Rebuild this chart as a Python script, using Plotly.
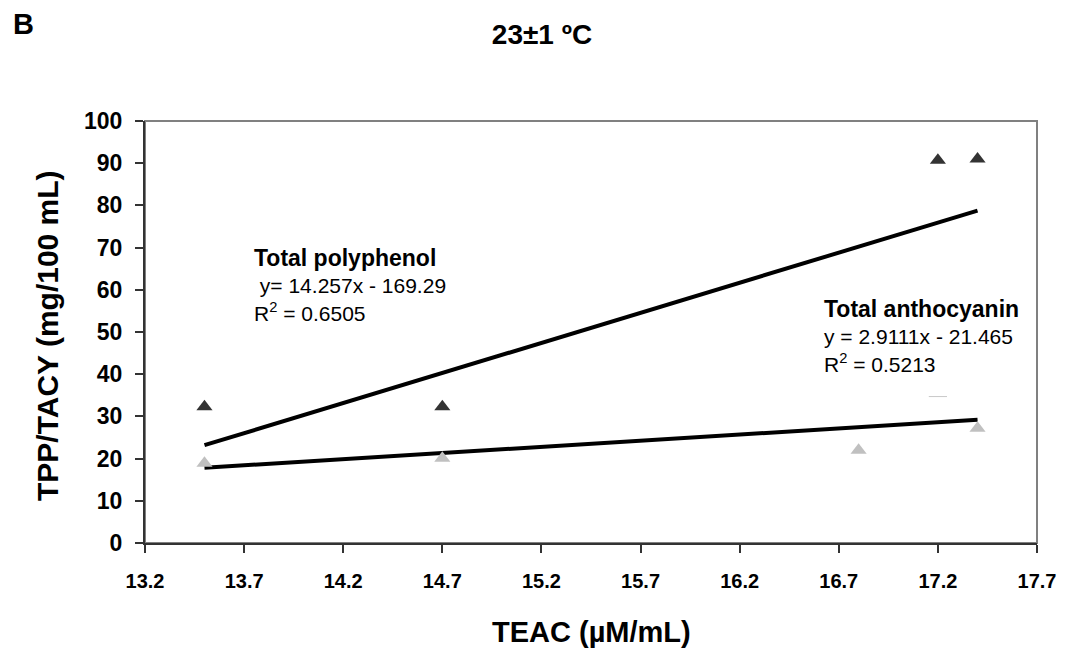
import plotly.graph_objects as go

# ---- data ----
tpp_x = [13.5, 14.7, 17.2, 17.4]
tpp_y = [32.3, 32.3, 90.7, 91.0]
tacy_x = [13.5, 14.7, 16.8, 17.4]
tacy_y = [18.9, 20.1, 22.0, 27.2]
tacy_extra_x = [17.2]
tacy_extra_y = [34.7]

trend_x = [13.5, 17.4]
tpp_slope, tpp_intercept = 14.257, -169.29
tacy_slope, tacy_intercept = 2.9111, -21.465

x_ticks = [13.2, 13.7, 14.2, 14.7, 15.2, 15.7, 16.2, 16.7, 17.2, 17.7]
x_tick_labels = ["13.2", "13.7", "14.2", "14.7", "15.2", "15.7", "16.2", "16.7", "17.2", "17.7"]
y_ticks = [0, 10, 20, 30, 40, 50, 60, 70, 80, 90, 100]

FONT = "Liberation Sans, Arial, sans-serif"

tpp_trend = [tpp_slope * x + tpp_intercept for x in trend_x]
tacy_trend = [tacy_slope * x + tacy_intercept for x in trend_x]

fig = go.Figure()
fig.add_trace(go.Scatter(x=trend_x, y=tpp_trend, mode="lines",
                         line=dict(color="black", width=4), showlegend=False))
fig.add_trace(go.Scatter(x=trend_x, y=tacy_trend, mode="lines",
                         line=dict(color="black", width=4), showlegend=False))
fig.add_trace(go.Scatter(x=tpp_x, y=tpp_y, mode="markers",
                         marker=dict(symbol="triangle-up", size=14, color="#333333"),
                         showlegend=False))
fig.add_trace(go.Scatter(x=tacy_x, y=tacy_y, mode="markers",
                         marker=dict(symbol="triangle-up", size=14, color="#c0c0c0"),
                         showlegend=False))
fig.add_trace(go.Scatter(x=tacy_extra_x, y=tacy_extra_y, mode="markers",
                         marker=dict(symbol="line-ew", size=13,
                                     line=dict(color="#c8c8c8", width=1)),
                         showlegend=False))

fig.update_layout(
    width=1068, height=656,
    margin=dict(l=145, r=31, t=121, b=113),
    paper_bgcolor="white", plot_bgcolor="white",
    font=dict(family=FONT, color="black"),
    title=dict(text="23±1 ºC", x=542 / 1068, xanchor="center",
               y=1 - 34 / 656, yanchor="middle",
               font=dict(size=28, family=FONT, weight="bold", color="black")),
    xaxis=dict(range=[13.2, 17.7], tickvals=x_ticks, ticktext=x_tick_labels,
               showgrid=False, zeroline=False, showline=True,
               linecolor="#333333", linewidth=2,
               ticks="outside", ticklen=8, tickcolor="#333333", tickwidth=2,
               ticklabelstandoff=11,
               tickfont=dict(size=20, family=FONT, weight="bold", color="black")),
    yaxis=dict(range=[0, 100], tickvals=y_ticks,
               showgrid=False, zeroline=False, showline=True,
               linecolor="#333333", linewidth=2,
               ticks="outside", ticklen=8, tickcolor="#333333", tickwidth=2,
               ticklabelstandoff=8,
               tickfont=dict(size=23, family=FONT, weight="bold", color="black")),
    shapes=[dict(type="rect", xref="paper", yref="paper", x0=0, y0=0, x1=1, y1=1,
                 line=dict(color="#808080", width=2), layer="below")],
)

annotations = [
    dict(text="B", xref="paper", yref="paper", x=(23 - 145) / 892, y=(543 - 24) / 422,
         xanchor="center", yanchor="middle", showarrow=False,
         font=dict(size=29, family=FONT, weight="bold", color="black")),
    dict(text="TEAC (µM/mL)", xref="paper", yref="paper", x=0.5, y=(543 - 632) / 422,
         xanchor="center", yanchor="middle", showarrow=False,
         font=dict(size=29, family=FONT, weight="bold", color="black")),
    dict(text="TPP/TACY (mg/100 mL)", xref="paper", yref="paper",
         x=(47 - 145) / 892, y=(543 - 336) / 422, textangle=-90,
         xanchor="center", yanchor="middle", showarrow=False,
         font=dict(size=30, family=FONT, weight="bold", color="black")),
    dict(text="<b><span style='font-size:23px'>Total polyphenol</span></b><br>"
              " y= 14.257x - 169.29<br>R<sup>2</sup> = 0.6505",
         xref="x", yref="y", x=13.74, y=71.0, xanchor="left", yanchor="top",
         align="left", showarrow=False,
         font=dict(size=21, family=FONT, color="black")),
    dict(text="<b><span style='font-size:23px'>Total anthocyanin</span></b><br>"
              "y = 2.9111x - 21.465<br>R<sup>2</sup> = 0.5213",
         xref="x", yref="y", x=16.615, y=59.0, xanchor="left", yanchor="top",
         align="left", showarrow=False,
         font=dict(size=21, family=FONT, color="black")),
]
fig.update_layout(annotations=annotations)

fig.write_html("out.html")
